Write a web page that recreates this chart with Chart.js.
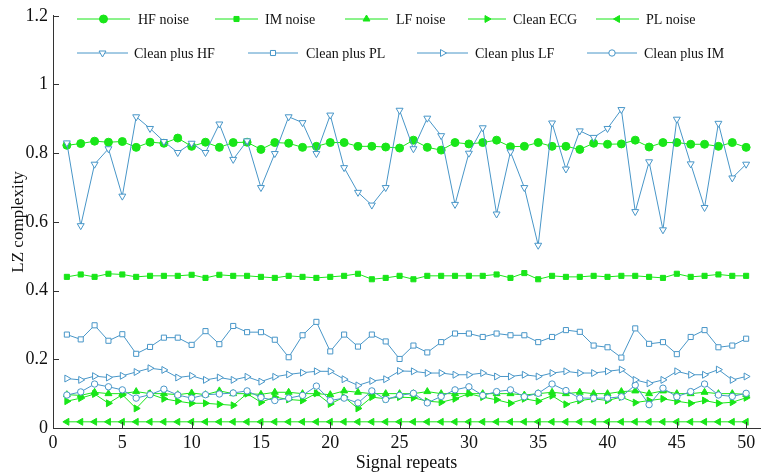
<!DOCTYPE html>
<html>
<head>
<meta charset="utf-8">
<script src="https://cdn.jsdelivr.net/npm/chart.js@4.4.0/dist/chart.umd.min.js"></script>
<style>
  html, body { margin: 0; padding: 0; background: #fff; }
  #wrap { width: 765px; height: 476px; position: relative; }
</style>
</head>
<body>
<div id="wrap"><canvas id="c"></canvas></div>
<script>
// signal repeat number on x
var repeats = [1,2,3,4,5,6,7,8,9,10,11,12,13,14,15,16,17,18,19,20,21,22,23,24,25,
  26,27,28,29,30,31,32,33,34,35,36,37,38,39,40,41,42,43,44,45,46,47,48,49,50];

var hfNoise = [0.823,0.828,0.835,0.832,0.834,0.817,0.832,0.829,0.844,0.82,0.832,0.817,0.831,0.832,0.811,0.831,0.829,0.817,0.82,0.831,
  0.831,0.82,0.82,0.818,0.815,0.838,0.817,0.809,0.831,0.827,0.831,0.838,0.819,0.82,0.831,0.82,0.82,0.811,0.829,0.826,
  0.827,0.838,0.818,0.831,0.831,0.826,0.826,0.82,0.831,0.817];
var imNoise = [0.44,0.447,0.44,0.449,0.447,0.44,0.443,0.443,0.443,0.446,0.437,0.446,0.443,0.443,0.44,0.437,0.443,0.44,0.437,0.44,
  0.443,0.449,0.433,0.437,0.443,0.433,0.443,0.443,0.443,0.443,0.443,0.447,0.437,0.451,0.433,0.443,0.44,0.44,0.443,0.44,
  0.443,0.443,0.44,0.437,0.449,0.44,0.443,0.447,0.443,0.443];
var lfNoise = [0.097,0.095,0.104,0.1,0.1,0.106,0.1,0.1,0.097,0.102,0.097,0.108,0.1,0.1,0.098,0.104,0.104,0.1,0.1,0.097,
  0.108,0.104,0.1,0.1,0.1,0.1,0.106,0.1,0.1,0.1,0.1,0.1,0.1,0.096,0.1,0.104,0.1,0.104,0.1,0.1,
  0.106,0.108,0.1,0.108,0.1,0.1,0.104,0.1,0.1,0.098];
var cleanEcg = [0.078,0.087,0.099,0.072,0.097,0.057,0.099,0.085,0.078,0.072,0.072,0.069,0.066,0.1,0.075,0.09,0.083,0.08,0.101,0.07,
  0.09,0.057,0.09,0.085,0.09,0.088,0.078,0.075,0.085,0.1,0.09,0.082,0.072,0.085,0.078,0.094,0.069,0.08,0.085,0.08,
  0.09,0.074,0.08,0.085,0.078,0.072,0.08,0.072,0.075,0.088];
var plNoise = [0.018,0.018,0.018,0.018,0.018,0.018,0.018,0.018,0.018,0.018,0.018,0.018,0.018,0.018,0.018,0.018,0.018,0.018,0.018,0.018,
  0.018,0.018,0.018,0.018,0.018,0.018,0.018,0.018,0.018,0.018,0.018,0.018,0.018,0.018,0.018,0.018,0.018,0.018,0.018,0.018,
  0.018,0.018,0.018,0.018,0.018,0.018,0.018,0.018,0.018,0.018];
var cleanHf = [0.83,0.589,0.768,0.813,0.675,0.906,0.872,0.834,0.802,0.829,0.802,0.885,0.782,0.836,0.70,0.799,0.906,0.889,0.799,0.911,
  0.758,0.686,0.649,0.70,0.925,0.813,0.902,0.851,0.651,0.80,0.874,0.623,0.804,0.70,0.532,0.888,0.754,0.865,0.846,0.872,
  0.927,0.63,0.775,0.577,0.899,0.769,0.642,0.887,0.728,0.768];
var cleanPl = [0.272,0.258,0.299,0.254,0.273,0.216,0.236,0.263,0.263,0.242,0.282,0.244,0.297,0.279,0.279,0.257,0.206,0.27,0.309,0.223,
  0.272,0.237,0.272,0.252,0.201,0.24,0.22,0.25,0.275,0.275,0.265,0.275,0.27,0.27,0.25,0.265,0.285,0.28,0.24,0.235,
  0.205,0.29,0.245,0.25,0.215,0.265,0.285,0.235,0.24,0.26];
var cleanLf = [0.144,0.14,0.151,0.147,0.152,0.163,0.174,0.169,0.147,0.152,0.14,0.147,0.14,0.149,0.135,0.149,0.156,0.161,0.165,0.165,
  0.142,0.124,0.137,0.142,0.166,0.165,0.16,0.16,0.155,0.155,0.16,0.15,0.15,0.155,0.15,0.16,0.165,0.16,0.16,0.165,
  0.17,0.14,0.13,0.14,0.165,0.155,0.155,0.17,0.14,0.15];
var cleanIm = [0.096,0.105,0.128,0.12,0.111,0.087,0.097,0.113,0.096,0.087,0.097,0.099,0.102,0.108,0.089,0.08,0.087,0.095,0.122,0.08,
  0.087,0.073,0.108,0.083,0.095,0.101,0.073,0.092,0.111,0.12,0.095,0.106,0.111,0.091,0.101,0.128,0.109,0.087,0.087,0.087,
  0.091,0.125,0.068,0.116,0.091,0.106,0.128,0.096,0.092,0.101];

var yTicks = [0, 0.2, 0.4, 0.6, 0.8, 1, 1.2];
var xTicks = [0, 5, 10, 15, 20, 25, 30, 35, 40, 45, 50];

var green = '#19e619';
var blue = '#4896c8';
var serif = '"Liberation Serif", "DejaVu Serif", serif';

function pts(arr) {
  return arr.map(function (v, i) { return { x: repeats[i], y: v }; });
}

function greenSet(label, data, style, rot, r) {
  return {
    label: label, data: pts(data), borderColor: green, borderWidth: 1,
    backgroundColor: green, pointBackgroundColor: green, pointBorderColor: green,
    pointStyle: style, pointRotation: rot, pointRadius: r, pointBorderWidth: 1, order: 2
  };
}
function blueSet(label, data, style, rot, r) {
  return {
    label: label, data: pts(data), borderColor: blue, borderWidth: 1,
    backgroundColor: '#fff', pointBackgroundColor: '#fff', pointBorderColor: blue,
    pointStyle: style, pointRotation: rot, pointRadius: r, pointBorderWidth: 1, order: 1
  };
}

var datasets = [
  greenSet('HF noise', hfNoise, 'circle', 0, 4),
  greenSet('IM noise', imNoise, 'rect', 0, 3.6),
  greenSet('LF noise', lfNoise, 'triangle', 0, 4),
  greenSet('Clean ECG', cleanEcg, 'triangle', 90, 4),
  greenSet('PL noise', plNoise, 'triangle', -90, 4),
  blueSet('Clean plus HF', cleanHf, 'triangle', 180, 4),
  blueSet('Clean plus PL', cleanPl, 'rect', 0, 3.6),
  blueSet('Clean plus LF', cleanLf, 'triangle', 90, 4),
  blueSet('Clean plus IM', cleanIm, 'circle', 0, 3.2)
];

// legend slots: [lineStart, lineEnd, textX, y]
var legendSlots = [
  [77, 130, 138, 19], [215, 258, 265, 19], [345, 388, 396, 19], [468, 506, 513, 19], [596, 639, 646, 19],
  [77, 128, 134, 53], [248, 298, 306, 53], [417, 468, 475, 53], [587, 637, 644, 53]
];

function drawMarker(ctx, ds, x, y) {
  ctx.save();
  ctx.translate(x, y);
  ctx.rotate(ds.pointRotation * Math.PI / 180);
  var r = ds.pointRadius;
  ctx.beginPath();
  if (ds.pointStyle === 'circle') {
    ctx.arc(0, 0, r, 0, Math.PI * 2);
  } else if (ds.pointStyle === 'rect') {
    var s = r * Math.SQRT1_2 * 2;
    ctx.rect(-s / 2, -s / 2, s, s);
  } else {
    ctx.moveTo(0, -r);
    ctx.lineTo(r * Math.sin(Math.PI * 2 / 3), r * 0.5);
    ctx.lineTo(-r * Math.sin(Math.PI * 2 / 3), r * 0.5);
    ctx.closePath();
  }
  ctx.fillStyle = ds.pointBackgroundColor;
  ctx.fill();
  ctx.lineWidth = 1;
  ctx.strokeStyle = ds.pointBorderColor;
  ctx.stroke();
  ctx.restore();
}

var legendPlugin = {
  id: 'twoRowLegend',
  afterDraw: function (chart) {
    var ctx = chart.ctx;
    ctx.save();
    ctx.font = '14px ' + serif;
    ctx.textBaseline = 'middle';
    ctx.fillStyle = '#111';
    chart.data.datasets.forEach(function (ds, i) {
      var s = legendSlots[i];
      ctx.beginPath();
      ctx.moveTo(s[0], s[3]);
      ctx.lineTo(s[1], s[3]);
      ctx.strokeStyle = ds.borderColor;
      ctx.lineWidth = 1;
      ctx.stroke();
      drawMarker(ctx, ds, (s[0] + s[1]) / 2, s[3]);
      ctx.fillText(ds.label, s[2], s[3] + 1);
    });
    ctx.restore();
  }
};

// ticks point inward, like the original figure
var innerTicks = {
  id: 'innerTicks',
  afterDraw: function (chart) {
    var ctx = chart.ctx, a = chart.chartArea;
    var xs = chart.scales.x, ys = chart.scales.y;
    ctx.save();
    ctx.strokeStyle = '#333';
    ctx.lineWidth = 1;
    ctx.beginPath();
    yTicks.forEach(function (v) {
      var py = Math.round(ys.getPixelForValue(v)) + 0.5;
      ctx.moveTo(a.left, py); ctx.lineTo(a.left + 6, py);
    });
    xTicks.forEach(function (v) {
      var px = Math.round(xs.getPixelForValue(v)) + 0.5;
      ctx.moveTo(px, a.bottom); ctx.lineTo(px, a.bottom - 6);
    });
    ctx.stroke();
    ctx.restore();
  }
};

new Chart(document.getElementById('c'), {
  type: 'line',
  data: { datasets: datasets },
  plugins: [legendPlugin, innerTicks],
  options: {
    responsive: true,
    maintainAspectRatio: false,
    animation: false,
    layout: { padding: { top: 8, right: 2, left: 0, bottom: 0 } },
    plugins: { legend: { display: false }, tooltip: { enabled: false } },
    scales: {
      x: {
        type: 'linear', min: 0, max: 51,
        afterBuildTicks: function (s) { s.ticks = xTicks.map(function (v) { return { value: v }; }); },
        afterFit: function (s) { s.height = 48; },
        grid: { display: false, tickLength: 0 },
        border: { display: true, color: '#333', width: 1 },
        ticks: { color: '#111', padding: 4, maxRotation: 0, font: { family: serif, size: 18 },
          callback: function (v) { return String(v); } },
        title: { display: true, text: 'Signal repeats', color: '#111', padding: { top: 0, bottom: 2 },
          font: { family: serif, size: 18 } }
      },
      y: {
        min: 0, max: 1.2,
        afterBuildTicks: function (s) { s.ticks = yTicks.map(function (v) { return { value: v }; }); },
        afterFit: function (s) { s.width = 53; },
        grid: { display: false, tickLength: 0 },
        border: { display: true, color: '#333', width: 1 },
        ticks: { color: '#111', padding: 5, font: { family: serif, size: 18 },
          callback: function (v) { return String(v); } },
        title: { display: true, text: 'LZ complexity', color: '#111', padding: { top: 8, bottom: 0 },
          font: { family: serif, size: 17 } }
      }
    }
  }
});
</script>
</body>
</html>
